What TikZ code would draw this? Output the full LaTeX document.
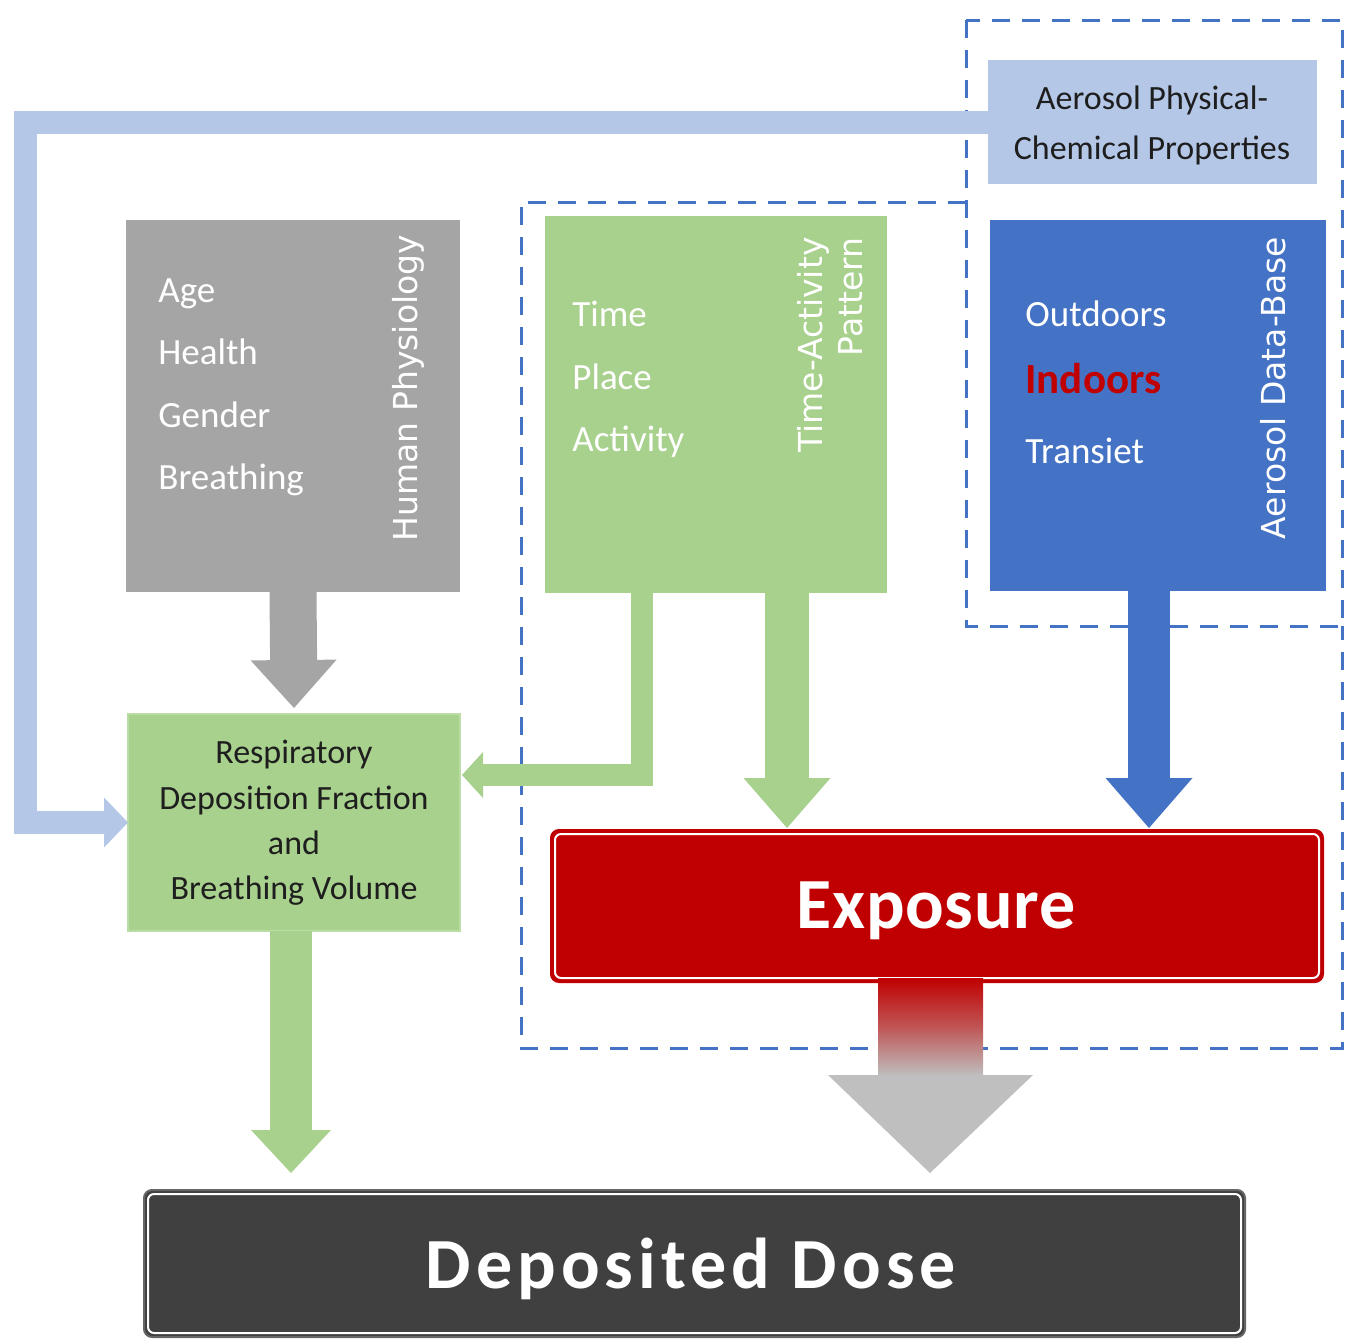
\documentclass[tikz,border=0pt]{standalone}
\usepackage{fontspec}
\setmainfont{Carlito}
\newfontfamily\vfont{DejaVu Sans}
\usetikzlibrary{arrows.meta,calc}
\definecolor{lblue}{HTML}{B4C7E7}
\definecolor{gphys}{HTML}{A5A5A5}
\definecolor{gact}{HTML}{A9D18E}
\definecolor{gactborder}{HTML}{BBDCA4}
\definecolor{bdb}{HTML}{4472C4}
\definecolor{rexp}{HTML}{C00000}
\definecolor{ddose}{HTML}{404040}
\definecolor{garr}{HTML}{BFBFBF}
\definecolor{dashcol}{HTML}{4472C4}
\definecolor{darktext}{HTML}{1E1E1E}
\tikzset{
  box/.style={rectangle, inner sep=0pt, outer sep=0pt, anchor=north west},
  boxtext/.style={text=white, font=\fontsize{18.5}{22}\selectfont, anchor=base west, inner sep=0pt},
  ctext/.style={text=darktext, font=\fontsize{17}{20}\selectfont, anchor=base, inner sep=0pt},
  sidelabel/.style={text=white, font=\vfont\fontsize{16.5}{20}\selectfont, rotate=90, align=center, inner sep=0pt},
  dashbox/.style={draw=dashcol, line width=1.5pt, dash pattern=on 9pt off 6pt},
  blockarrow/.style={line cap=butt, line join=miter},
}
\begin{document}
\begin{tikzpicture}[x=0.5pt,y=-0.5pt]
\useasboundingbox (0,0) rectangle (1345,1340);
% dashed groupings
\draw[dashbox] (966,20) rectangle (1342,626);
\draw[dashbox] (966,202) -- (521,202) -- (521,1048) -- (1342,1048) -- (1342,626);
% boxes
\node[box, fill=lblue, minimum width=164.5pt, minimum height=62pt] (aero) at (988,60) {};
\node[box, fill=gphys, minimum width=167pt, minimum height=186pt] (phys) at (126,220) {};
\node[box, fill=gact, minimum width=171pt, minimum height=188.5pt] (tap) at (545,216) {};
\node[box, fill=bdb, minimum width=168pt, minimum height=185.5pt] (db) at (990,220) {};
\node[box, fill=gact, draw=gactborder, line width=1pt, minimum width=166pt, minimum height=108.5pt] (resp) at (128,714) {};
\node[box, fill=rexp, draw=rexp, line width=1pt, rounded corners=4pt, minimum width=386pt, minimum height=76pt] (expo) at (551,830) {};
\draw[white, line width=1pt, rounded corners=3pt] ([shift={(2pt,-2pt)}]expo.north west) rectangle ([shift={(-2pt,2pt)}]expo.south east);
\node[box, fill=ddose, draw=ddose!80, line width=1pt, rounded corners=4pt, minimum width=550.5pt, minimum height=73.5pt] (dose) at (144,1190) {};
\draw[white, line width=1pt, rounded corners=3pt] ([shift={(2pt,-2pt)}]dose.north west) rectangle ([shift={(-2pt,2pt)}]dose.south east);
% helper coordinates
\coordinate (lb) at (25,0);
\coordinate (gl) at (642,775);
\coordinate (g2) at (787,0);
\coordinate (b2) at (1149,0);
\coordinate (r2) at (291,0);
\coordinate (gtip) at (930,1173);
% connectors
\draw[blockarrow, lblue, line width=11.5pt, -{Triangle[length=12pt 0 0, width=25pt 0 0, line width=0pt]}]
  (aero.west) -| (lb |- resp.west) -- (resp.west);
\draw[blockarrow, gphys, line width=23.5pt, -{Triangle[length=24pt 0 0, width=43pt 0 0, line width=0pt]}]
  (phys.south) -- ([yshift=3pt]resp.north);
\draw[blockarrow, gact, line width=11pt, -{Triangle[length=10.5pt 0 0, width=23pt 0 0, line width=0pt]}]
  (tap.south -| gl) -- (gl) -- ([xshift=1pt]resp.east |- gl);
\draw[blockarrow, gact, line width=22pt, -{Triangle[length=25pt 0 0, width=43.5pt 0 0, line width=0pt]}]
  (tap.south -| g2) -- ([yshift=1pt]expo.north -| g2);
\draw[blockarrow, bdb, line width=21pt, -{Triangle[length=25pt 0 0, width=43.5pt 0 0, line width=0pt]}]
  (db.south -| b2) -- ([yshift=1pt]expo.north -| b2);
\draw[blockarrow, gact, line width=21pt, -{Triangle[length=21.5pt 0 0, width=40pt 0 0, line width=0pt]}]
  (resp.south -| r2) -- ([yshift=8.5pt]dose.north -| r2);
% exposure -> dose gradient arrow
\shade[top color=rexp, bottom color=garr, middle color=rexp!55!garr]
  ($(expo.south -| gtip)+(-52,-4)$) rectangle ($(gtip)+(53,-97)$);
\fill[garr] ($(gtip)+(-102,-98)$) -- ($(gtip)+(103,-98)$) -- (gtip) -- cycle;
% texts
\node[ctext] (a1) at (1152,109) {Aerosol Physical-};
\node[ctext] (a2) at (1152,159) {Chemical Properties};
\node[boxtext] (tAge) at (158,302) {Age};
\node[boxtext] (tHealth) at (158,364.5) {Health};
\node[boxtext] (tGender) at (158,427) {Gender};
\node[boxtext] (tBreath) at (158,489.5) {Breathing};
\node[sidelabel] (lPhys) at (408,388) {Human Physiology};
\node[boxtext] (tTime) at (572,326) {Time};
\node[boxtext] (tPlace) at (572,389) {Place};
\node[boxtext] (tAct) at (572,451) {Activity};
\node[sidelabel, align=right, anchor=south east] (lTap) at (863,237) {Time-Activity\\Pattern};
\node[boxtext] (tOut) at (1025,326) {Outdoors};
\node[boxtext, text=rexp, font=\bfseries\fontsize{21.5}{24}\selectfont] (tIn) at (1025,393) {Indoors};
\node[boxtext] (tTr) at (1025,463) {Transiet};
\node[sidelabel] (lDb) at (1273,388) {Aerosol Data-Base};
\node[ctext] (r1) at (294,763) {Respiratory};
\node[ctext] (r2t) at (294,809) {Deposition Fraction};
\node[ctext] (r3) at (294,854) {and};
\node[ctext] (r4) at (294,899) {Breathing Volume};
\node[anchor=base, inner sep=0pt, text=white, font=\bfseries\fontsize{36}{40}\selectfont\addfontfeatures{LetterSpace=1}] (texp) at (936,928) {Exposure};
\node[anchor=base, inner sep=0pt, text=white, font=\bfseries\fontsize{36}{40}\selectfont\addfontfeatures{LetterSpace=7}] (tdose) at (691,1288) {Deposited Dose};
\end{tikzpicture}
\end{document}
